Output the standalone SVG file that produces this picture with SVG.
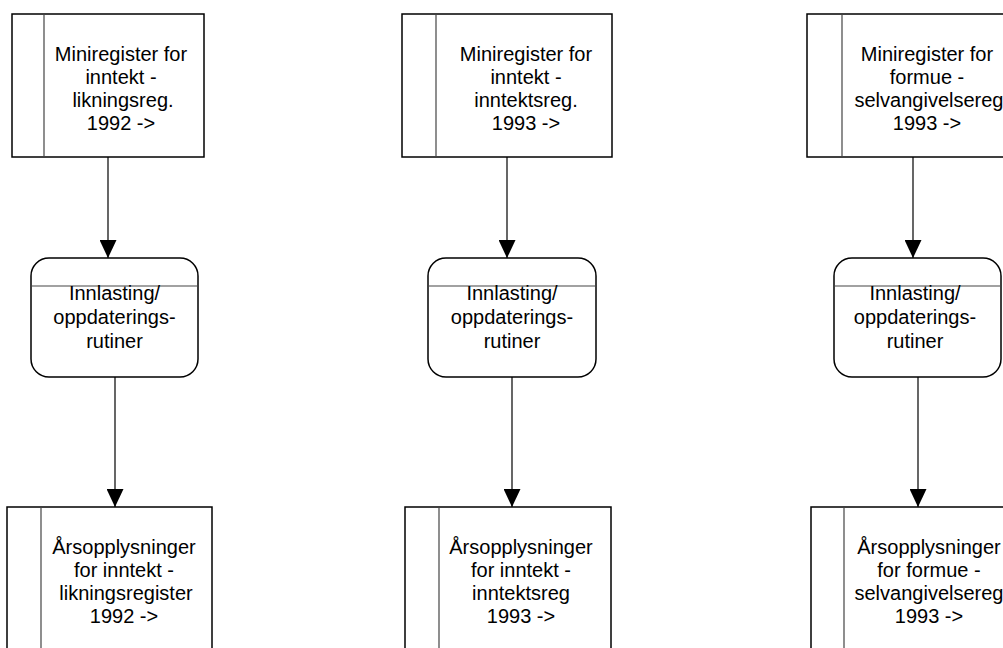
<svg xmlns="http://www.w3.org/2000/svg" width="1003" height="648" viewBox="0 0 1003 648">
<defs>
<style>
.box{fill:#fff;stroke:#000;stroke-width:1.5}
.div{stroke:#444;stroke-width:1.2;fill:none}
.conn{stroke:#000;stroke-width:1.2;fill:none}
.arr{fill:#000;stroke:none}
text{font-family:"Liberation Sans",Arial,sans-serif;font-size:20px;fill:#000;text-anchor:middle}
</style>
<marker id="ah" viewBox="0 0 18 17" refX="18" refY="8.5" markerWidth="18" markerHeight="17" markerUnits="userSpaceOnUse" orient="auto">
<path d="M0,0 L18,8.5 L0,17 Z" fill="#000"/>
</marker>
</defs>
<rect width="1003" height="648" fill="#fff"/>
<g id="connectors">
<line class="conn" x1="108" y1="157" x2="108" y2="258" marker-end="url(#ah)"/>
<line class="conn" x1="115" y1="377" x2="115" y2="507" marker-end="url(#ah)"/>
<line class="conn" x1="507" y1="157" x2="507" y2="258" marker-end="url(#ah)"/>
<line class="conn" x1="512" y1="377" x2="512" y2="507" marker-end="url(#ah)"/>
<line class="conn" x1="913" y1="157" x2="913" y2="258" marker-end="url(#ah)"/>
<line class="conn" x1="918" y1="377" x2="918" y2="507" marker-end="url(#ah)"/>
</g>
<g id="n1">
<rect class="box" x="12" y="14" width="192" height="143"/>
<line class="div" x1="44" y1="14" x2="44" y2="157"/>
<text x="121" y="61">Miniregister for</text>
<text x="121" y="84">inntekt -</text>
<text x="123" y="107">likningsreg.</text>
<text x="121" y="130">1992 -&gt;</text>
</g>
<g id="n2">
<rect class="box" x="31" y="258" width="167" height="119" rx="18" ry="18"/>
<line class="div" x1="31" y1="286" x2="198" y2="286"/>
<text x="114.5" y="300">Innlasting/</text>
<text x="114.5" y="324">oppdaterings-</text>
<text x="114.5" y="348">rutiner</text>
</g>
<g id="n3">
<rect class="box" x="7" y="507" width="205" height="160"/>
<line class="div" x1="41" y1="507" x2="41" y2="667"/>
<text x="124" y="554">Årsopplysninger</text>
<text x="124" y="577">for inntekt -</text>
<text x="126" y="600">likningsregister</text>
<text x="124" y="623">1992 -&gt;</text>
</g>
<g id="n4">
<rect class="box" x="402" y="14" width="210" height="143"/>
<line class="div" x1="436" y1="14" x2="436" y2="157"/>
<text x="526" y="61">Miniregister for</text>
<text x="526" y="84">inntekt -</text>
<text x="526" y="107">inntektsreg.</text>
<text x="526" y="130">1993 -&gt;</text>
</g>
<g id="n5">
<rect class="box" x="428" y="258" width="168" height="119" rx="18" ry="18"/>
<line class="div" x1="428" y1="286" x2="596" y2="286"/>
<text x="512" y="300">Innlasting/</text>
<text x="512" y="324">oppdaterings-</text>
<text x="512" y="348">rutiner</text>
</g>
<g id="n6">
<rect class="box" x="405" y="507" width="206" height="160"/>
<line class="div" x1="439" y1="507" x2="439" y2="667"/>
<text x="521" y="554">Årsopplysninger</text>
<text x="521" y="577">for inntekt -</text>
<text x="521" y="600">inntektsreg</text>
<text x="521" y="623">1993 -&gt;</text>
</g>
<g id="n7">
<rect class="box" x="807" y="14" width="215" height="143"/>
<line class="div" x1="842" y1="14" x2="842" y2="157"/>
<text x="927" y="61">Miniregister for</text>
<text x="927" y="84">formue -</text>
<text x="929" y="107">selvangivelsereg</text>
<text x="927" y="130">1993 -&gt;</text>
</g>
<g id="n8">
<rect class="box" x="834" y="258" width="167" height="119" rx="18" ry="18"/>
<line class="div" x1="834" y1="286" x2="1001" y2="286"/>
<text x="915" y="300">Innlasting/</text>
<text x="915" y="324">oppdaterings-</text>
<text x="915" y="348">rutiner</text>
</g>
<g id="n9">
<rect class="box" x="811" y="507" width="215" height="160"/>
<line class="div" x1="844" y1="507" x2="844" y2="667"/>
<text x="929" y="554">Årsopplysninger</text>
<text x="929" y="577">for formue -</text>
<text x="929" y="600">selvangivelsereg</text>
<text x="929" y="623">1993 -&gt;</text>
</g>
</svg>
